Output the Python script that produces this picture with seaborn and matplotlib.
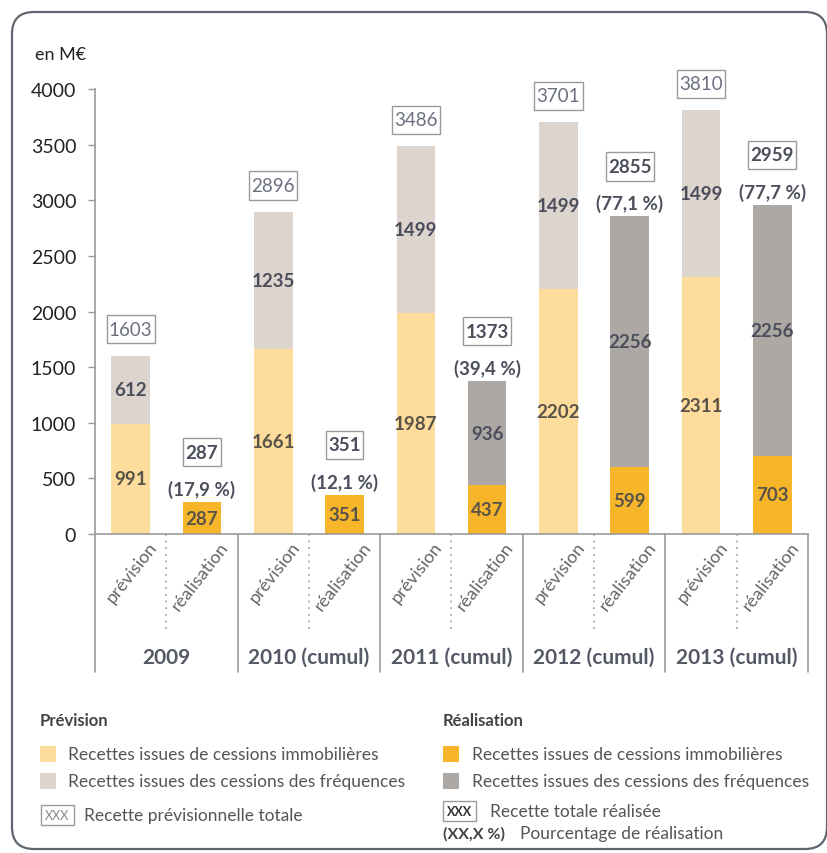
import numpy as np
import pandas as pd
import matplotlib
matplotlib.use("Agg")
import matplotlib.pyplot as plt
import seaborn as sns
from matplotlib.patches import FancyBboxPatch, Rectangle
from matplotlib.path import Path
from matplotlib.transforms import IdentityTransform, blended_transform_factory

# ---------------- data ----------------
years = ["2009", "2010 (cumul)", "2011 (cumul)", "2012 (cumul)", "2013 (cumul)"]
kinds = ["prévision", "réalisation"]
prev_immo = [991, 1661, 1987, 2202, 2311]
prev_freq = [612, 1235, 1499, 1499, 1499]
prev_total = [1603, 2896, 3486, 3701, 3810]
real_immo = [287, 351, 437, 599, 703]
real_freq = [0, 0, 936, 2256, 2256]
real_total = [287, 351, 1373, 2855, 2959]
real_pct = ["(17,9 %)", "(12,1 %)", "(39,4 %)", "(77,1 %)", "(77,7 %)"]
y_ticks = [0, 500, 1000, 1500, 2000, 2500, 3000, 3500, 4000]

# ---------------- style ----------------
sns.set_style("white")
plt.rcParams["font.family"] = ["Lato", "DejaVu Sans"]

C_PREV_IMMO = "#FDDC9C"
C_PREV_FREQ = "#DDD4CD"
C_REAL_IMMO = "#F7B52A"
C_REAL_FREQ = "#ADA8A4"
C_TXT = "#4B4F5C"
C_AXIS = "#9A9A9A"


def tight_box(x0, y0, width, height, mutation_size):
    """rectangle with small horizontal and larger vertical padding"""
    px = 0.12 * mutation_size
    py = 0.30 * mutation_size
    xa, ya = x0 - px, y0 - py
    xb, yb = x0 + width + px, y0 + height + py
    return Path([(xa, ya), (xb, ya), (xb, yb), (xa, yb), (xa, ya)], closed=True)


rows = []
for g, y in enumerate(years):
    rows.append(dict(pos=f"{y}|prévision", kind="prévision", immo=prev_immo[g],
                     freq=prev_freq[g], total=prev_total[g]))
    rows.append(dict(pos=f"{y}|réalisation", kind="réalisation", immo=real_immo[g],
                     freq=real_freq[g], total=real_immo[g] + real_freq[g]))
df = pd.DataFrame(rows)
order = list(df["pos"])

W, H = 828, 854
fig = plt.figure(figsize=(W / 100, H / 100), dpi=100)
fig.patch.set_facecolor("white")

def fx(x):
    return x / W

def fy(y):
    return 1 - y / H

ax = fig.add_axes([fx(95), fy(535), (808 - 95) / W, (535 - 90) / H])

sns.barplot(data=df, x="pos", y="total", hue="kind", order=order,
            hue_order=kinds, palette={"prévision": C_PREV_FREQ, "réalisation": C_REAL_FREQ},
            dodge=False, width=0.54, saturation=1, errorbar=None, legend=False,
            linewidth=0, ax=ax)
sns.barplot(data=df, x="pos", y="immo", hue="kind", order=order,
            hue_order=kinds, palette={"prévision": C_PREV_IMMO, "réalisation": C_REAL_IMMO},
            dodge=False, width=0.54, saturation=1, errorbar=None, legend=False,
            linewidth=0, ax=ax)

ax.set_xlim(-0.5, 9.5)
ax.set_ylim(0, 4000)
ax.set_yticks(y_ticks)
ax.set_yticklabels([str(v) for v in y_ticks], fontsize=14, color="#222222")
ax.tick_params(axis="y", length=5, width=1, color=C_AXIS, pad=8.5, left=True)
ax.set_xticks([])
ax.set_xlabel("")
ax.set_ylabel("")
for s in ["top", "right"]:
    ax.spines[s].set_visible(False)
for s in ["left", "bottom"]:
    ax.spines[s].set_color(C_AXIS)
    ax.spines[s].set_linewidth(1.2)

LBL = 13.5
# bar segment labels
for i, r in df.iterrows():
    if r["immo"] > 0:
        ax.text(i, r["immo"] / 2, str(r["immo"]), ha="center", va="center",
                fontsize=LBL, fontweight="bold", color="#5A5448")
    if r["freq"] > 0:
        ax.text(i, r["immo"] + r["freq"] / 2, str(r["freq"]), ha="center", va="center",
                fontsize=LBL, fontweight="bold", color=C_TXT)

# totals
for g in range(5):
    ip, ir = 2 * g, 2 * g + 1
    ax.annotate(str(prev_total[g]), xy=(ip, prev_total[g]), xytext=(0, 19),
                textcoords="offset points", ha="center", va="center",
                fontsize=LBL, color="#6B7080",
                bbox=dict(boxstyle=tight_box, fc="white", ec="#9A9A9A", lw=1))
    ax.annotate(str(real_total[g]), xy=(ir, real_total[g]), xytext=(0, 36),
                textcoords="offset points", ha="center", va="center",
                fontsize=LBL, fontweight="bold", color=C_TXT,
                bbox=dict(boxstyle=tight_box, fc="white", ec="#9A9A9A", lw=1))
    ax.annotate(real_pct[g], xy=(ir, real_total[g]), xytext=(0, 9.5),
                textcoords="offset points", ha="center", va="center",
                fontsize=LBL, fontweight="bold", color=C_TXT)

# category axis decorations
bt = blended_transform_factory(ax.transData, ax.transAxes)
for x in [-0.5, 1.5, 3.5, 5.5, 7.5, 9.5]:
    ax.plot([x, x], [0, -0.31], transform=bt, color=C_AXIS, lw=1.2, clip_on=False)
for x in [0.5, 2.5, 4.5, 6.5, 8.5]:
    ax.plot([x, x], [0, -0.225], transform=bt, color=C_AXIS, lw=1.2,
            linestyle=(0, (1, 3)), clip_on=False)
for i in range(10):
    ax.annotate(kinds[i % 2], xy=(i + 0.24, 0), xycoords=bt, xytext=(0, -3),
                textcoords="offset points", rotation=52, rotation_mode="anchor",
                ha="right", va="top", fontsize=13, color="#666666")
for g in range(5):
    ax.annotate(years[g], xy=(2 * g + 0.5, 0), xycoords=bt, xytext=(0, -88.5),
                textcoords="offset points", ha="center", va="center",
                fontsize=15, fontweight="bold", color="#555A66")

# unit label
fig.text(fx(35), fy(55), "en M€", fontsize=13, color="#222222", va="center", ha="left")

# legend
def patch(x, y, c):
    fig.patches.append(Rectangle((fx(x), fy(y + 8)), 16 / W, 16 / H, transform=fig.transFigure,
                                 facecolor=c, edgecolor="none"))

LF = 12.5
fig.text(fx(40), fy(721), "Prévision", fontsize=12, fontweight="bold", color="#444444", va="center")
patch(40, 755, C_PREV_IMMO)
fig.text(fx(68), fy(755), "Recettes issues de cessions immobilières", fontsize=LF, color="#555555", va="center")
patch(40, 782, C_PREV_FREQ)
fig.text(fx(68), fy(782), "Recettes issues des cessions des fréquences", fontsize=LF, color="#555555", va="center")
fig.text(fx(45), fy(816), "XXX", fontsize=9, color="#8A8A8A", va="center",
         bbox=dict(boxstyle="square,pad=0.35", fc="white", ec="#9A9A9A", lw=1))
fig.text(fx(84), fy(816), "Recette prévisionnelle totale", fontsize=LF, color="#555555", va="center")

fig.text(fx(443), fy(721), "Réalisation", fontsize=12, fontweight="bold", color="#444444", va="center")
patch(443, 755, C_REAL_IMMO)
fig.text(fx(472), fy(755), "Recettes issues de cessions immobilières", fontsize=LF, color="#555555", va="center")
patch(443, 782, C_REAL_FREQ)
fig.text(fx(472), fy(782), "Recettes issues des cessions des fréquences", fontsize=LF, color="#555555", va="center")
fig.text(fx(447), fy(812), "XXX", fontsize=9, fontweight="bold", color="#333333", va="center",
         bbox=dict(boxstyle="square,pad=0.35", fc="white", ec="#9A9A9A", lw=1))
fig.text(fx(490), fy(812), "Recette totale réalisée", fontsize=LF, color="#555555", va="center")
fig.text(fx(443), fy(834), "(XX,X %)", fontsize=11.5, fontweight="bold", color="#444444", va="center")
fig.text(fx(520), fy(834), "Pourcentage de réalisation", fontsize=LF, color="#555555", va="center")

# outer rounded frame (pixel coordinates)
frame = FancyBboxPatch((12, H - 850), 827 - 12, 850 - 13,
                       boxstyle="round,pad=0,rounding_size=22",
                       transform=IdentityTransform(), facecolor="none",
                       edgecolor="#5F6670", lw=1.6)
fig.patches.append(frame)

fig.savefig("out.png", dpi=100)
